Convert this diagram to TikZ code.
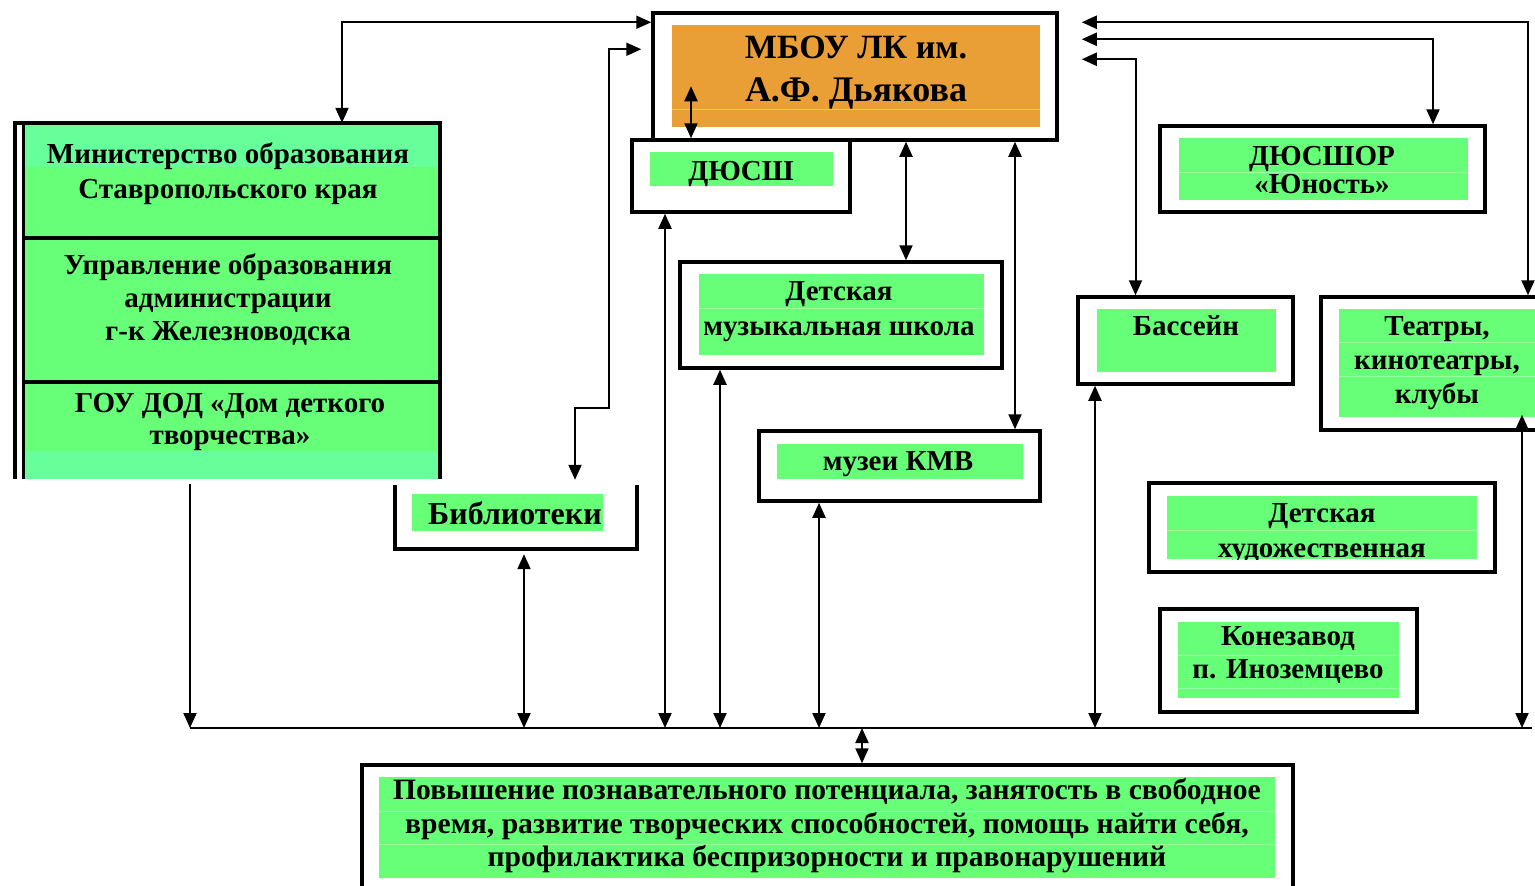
\documentclass[tikz,border=0pt]{standalone}
\usepackage{fontspec}
\setmainfont{Liberation Serif}
\usetikzlibrary{arrows.meta}
\definecolor{gr}{RGB}{102,255,119}
\definecolor{grl}{RGB}{102,255,153}
\definecolor{org}{RGB}{234,158,54}
\begin{document}
\begin{tikzpicture}[x=1pt,y=-1pt,
  frame/.style={draw=black, line width=3.5pt, fill=white, inner sep=0pt},
  gfill/.style={fill=gr, draw=none, inner sep=0pt},
  ofill/.style={fill=org, draw=none, inner sep=0pt},
  txt/.style={font=\fontsize{29}{34}\selectfont\bfseries, inner sep=0pt, anchor=base},
  txtb/.style={font=\fontsize{29.6}{34}\selectfont\bfseries, inner sep=0pt, anchor=base},
  txtl/.style={font=\fontsize{32}{38}\selectfont\bfseries, inner sep=0pt, anchor=base},
  ttl/.style={font=\fontsize{34}{40}\selectfont\bfseries, inner sep=0pt, anchor=base},
  ttlb/.style={font=\fontsize{36}{42}\selectfont\bfseries, inner sep=0pt, anchor=base},
  divl/.style={draw=white, opacity=0.35, line width=0.8pt},
  tip/.tip={Triangle[length=15pt,width=13pt]},
  conn/.style={line width=2pt, tip-tip},
  conne/.style={line width=2pt, -tip},
  busl/.style={line width=2pt}
]
\useasboundingbox (0,0) rectangle (1535,886);

% ---------- Ministry block ----------
\node[inner sep=0pt, minimum width=425pt, minimum height=356pt] (min) at (227.5,301) {};
\fill[gr] (23,123) rectangle (438,479);
\fill[grl] (23,123) rectangle (438,167);
\fill[grl] (23,451) rectangle (438,479);
\draw[line width=3.5pt] (15,479) -- (15,123) -- (440,123) -- (440,479);
\draw[line width=3pt] (23,123) -- (23,479);
\draw[line width=3.5pt] (23,238) -- (438,238);
\draw[line width=3.5pt] (23,382) -- (438,382);
\node[txt] (min1) at (228,163) {Министерство образования};
\node[txt] (min2) at (228,198) {Ставропольского края};
\node[txt] (min3) at (228,274) {Управление образования};
\node[txt] (min4) at (228,307) {администрации};
\node[txt] (min5) at (228,340) {г-к Железноводска};
\node[txt] (min6) at (230,412) {ГОУ ДОД «Дом деткого};
\node[txt] (min7) at (230,444) {творчества»};

% ---------- Main box ----------
\node[frame, minimum width=404pt, minimum height=127pt] (mbou) at (855,76.5) {};
\node[ofill, minimum width=368pt, minimum height=102pt] (mbouo) at (856,76) {};
\draw[divl] (672,109) -- (1040,109);
\node[ttl] (t1) at (856,58) {МБОУ ЛК им.};
\node[ttlb] (t2) at (856,101) {А.Ф. Дьякова};

% ---------- DYuSSh ----------
\node[frame, minimum width=218pt, minimum height=72pt] (dyussh) at (741,176) {};
\node[gfill, minimum width=183pt, minimum height=34pt] (dyusshg) at (741.5,169) {};
\node[txt] (dyusshT) at (741,180) {ДЮСШ};

% ---------- Library ----------
\node[inner sep=0pt, minimum width=242pt, minimum height=64pt] (lib) at (516,517) {};
\draw[line width=3.5pt] (395,485) -- (395,549) -- (637,549) -- (637,485);
\node[gfill, minimum width=191pt, minimum height=37pt] (libg) at (507.5,512.5) {};
\node[txtl] (libT) at (515,524) {Библиотеки};

% ---------- Music school ----------
\node[frame, minimum width=322pt, minimum height=106pt] (music) at (841,315) {};
\node[gfill, minimum width=285pt, minimum height=81pt] (musicg) at (841.5,314.5) {};
\draw[divl] (699,308) -- (984,308);
\node[txt] (mus1) at (839,300) {Детская};
\node[txt] (mus2) at (839,335) {музыкальная школа};

% ---------- Museums ----------
\node[frame, minimum width=281pt, minimum height=70pt] (museum) at (899.5,466) {};
\node[gfill, minimum width=246pt, minimum height=35pt] (museumg) at (900,461.5) {};
\node[txt] (museumT) at (898,470) {музеи КМВ};

% ---------- DYuSShOR ----------
\node[frame, minimum width=325pt, minimum height=86pt] (dyusshor) at (1322.5,169) {};
\node[gfill, minimum width=289pt, minimum height=62pt] (dyusshorg) at (1323.5,169) {};
\draw[divl] (1179,172) -- (1468,172);
\node[txt] (dor1) at (1322,165) {ДЮСШОР};
\node[txt] (dor2) at (1322,193) {«Юность»};

% ---------- Pool ----------
\node[frame, minimum width=215pt, minimum height=87pt] (bass) at (1185.5,340.5) {};
\node[gfill, minimum width=179pt, minimum height=63pt] (bassg) at (1186.5,340.5) {};
\node[txt] (bassT) at (1186,335) {Бассейн};

% ---------- Theatres ----------
\node[frame, minimum width=229pt, minimum height=133pt] (teatry) at (1435.5,363.5) {};
\node[gfill, minimum width=211pt, minimum height=108pt] (teatryg) at (1444.5,363) {};
\draw[divl] (1339,342) -- (1550,342);
\draw[divl] (1339,376) -- (1550,376);
\node[txt] (tea1) at (1437,335) {Театры,};
\node[txt] (tea2) at (1437,369) {кинотеатры,};
\node[txt] (tea3) at (1437,403) {клубы};

% ---------- Art school ----------
\node[frame, minimum width=346pt, minimum height=89pt] (art) at (1322,527.5) {};
\node[gfill, minimum width=310pt, minimum height=63pt] (artg) at (1322,527.5) {};
\draw[divl] (1167,530) -- (1477,530);
\begin{scope}
\clip (1167,496) rectangle (1477,559);
\node[txt] (art1) at (1322,522) {Детская};
\node[txt] (art2) at (1322,557) {художественная};
\end{scope}

% ---------- Stud farm ----------
\node[frame, minimum width=257pt, minimum height=103pt] (kon) at (1288.5,660.5) {};
\node[gfill, minimum width=221pt, minimum height=76pt] (kong) at (1288.5,660) {};
\draw[divl] (1178,655) -- (1399,655);
\draw[divl] (1178,688) -- (1399,688);
\node[txt] (kon1) at (1288,645) {Конезавод};
\node[txt] (kon2) at (1288,678) {п. Иноземцево};

% ---------- Bottom box ----------
\node[frame, minimum width=931pt, minimum height=140pt] (res) at (827.5,835) {};
\node[gfill, minimum width=896pt, minimum height=101pt] (resg) at (827,827.5) {};
\draw[divl] (379,811) -- (1275,811);
\draw[divl] (379,844) -- (1275,844);
\node[txtb] (res1) at (827,799) {Повышение познавательного потенциала, занятость в свободное};
\node[txtb] (res2) at (827,833) {время, развитие творческих способностей, помощь найти себя,};
\node[txtb] (res3) at (827,866) {профилактика беспризорности и правонарушений};

% ---------- Bus ----------
\coordinate (busL) at (190,728);
\coordinate (busR) at (1532,728);
\draw[busl] (busL) -- (busR);

% ---------- Connectors ----------
% ministry <-> main
\draw[conn] ([xshift=114.5pt]min.north) |- ([yshift=-11pt]mbou.north west);
% library <-> main
\draw[conn] ([xshift=59pt,yshift=5pt]lib.north) -- ++(0,-72) -- ++(34,0) |- ([xshift=-10pt,yshift=-38pt]mbou.north west);
% main <-> DYuSSh
\draw[conn] ([xshift=-50pt]dyussh.north) -- ++(0,-52);
% main <-> music
\draw[conn] ([xshift=51pt]mbou.south) -- ([xshift=51pt]mbou.south |- music.north);
% main <-> museum
\draw[conn] ([xshift=160pt]mbou.south) -- ([xshift=160pt]mbou.south |- museum.north);
% right side
\draw[conn] ([xshift=23pt,yshift=-11pt]mbou.north east) -| ([xshift=92.5pt]teatry.north);
\draw[conn] ([xshift=23pt,yshift=-28pt]mbou.north east) -| ([xshift=110.5pt]dyusshor.north);
\draw[conn] ([xshift=23pt,yshift=-48pt]mbou.north east) -| ([xshift=-50pt]bass.north);
% to bus
\draw[conne] ([xshift=-37.5pt,yshift=-5pt]min.south) -- ([xshift=-37.5pt]min.south |- busL);
\draw[conn] ([xshift=8pt,yshift=-5pt]lib.south) -- ([xshift=8pt]lib.south |- busL);
\draw[conn] ([xshift=-76pt]dyussh.south) -- ([xshift=-76pt]dyussh.south |- busL);
\draw[conn] ([xshift=-121pt]music.south) -- ([xshift=-121pt]music.south |- busL);
\draw[conn] ([xshift=-80.5pt]museum.south) -- ([xshift=-80.5pt]museum.south |- busL);
\draw[conn] ([xshift=-90.5pt]bass.south) -- ([xshift=-90.5pt]bass.south |- busL);
\draw[conn] ([xshift=86.5pt,yshift=17pt]teatry.south) -- ([xshift=86.5pt]teatry.south |- busL);
\draw[conn] ([xshift=34.5pt]res.north |- busL) -- ([xshift=34.5pt]res.north);
\end{tikzpicture}
\end{document}
